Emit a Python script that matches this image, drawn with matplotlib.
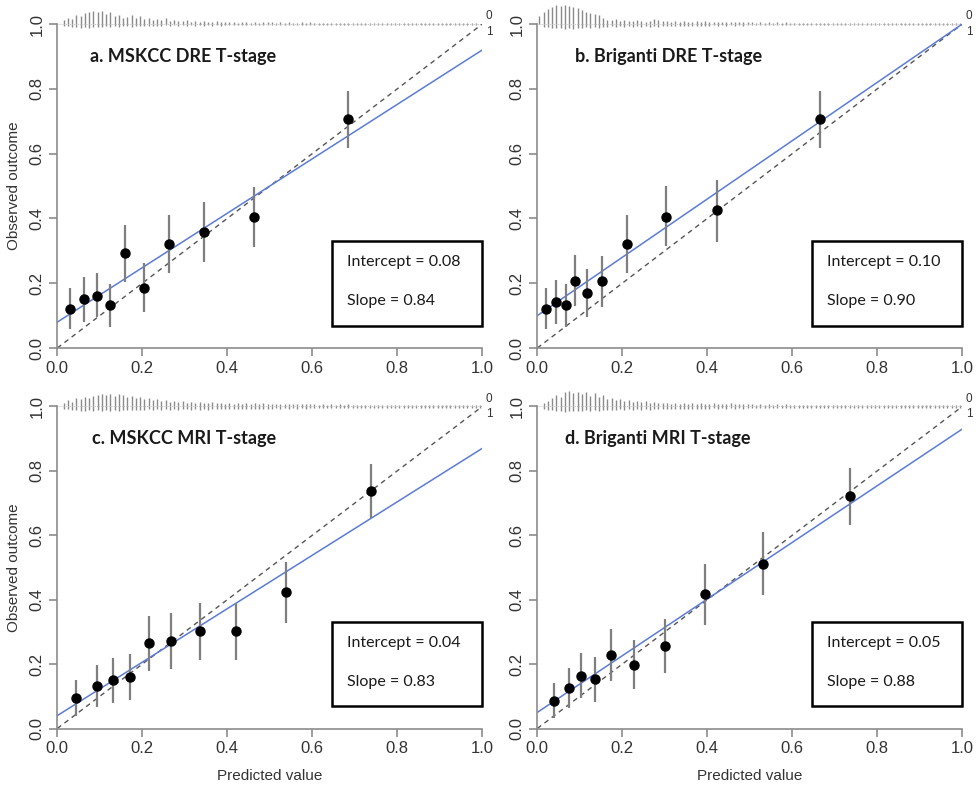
import matplotlib.pyplot as plt
import numpy as np

# panel titles and fitted calibration lines
titles = ['a. MSKCC DRE T-stage', 'b. Briganti DRE T-stage',
          'c. MSKCC MRI T-stage', 'd. Briganti MRI T-stage']
intercepts = [0.08, 0.10, 0.04, 0.05]
slopes = [0.84, 0.90, 0.83, 0.88]

# grouped observations (predicted, observed, CI low, CI high)
a_x = [0.029, 0.064, 0.093, 0.123, 0.160, 0.204, 0.263, 0.346, 0.464, 0.683]
a_y = [0.122, 0.151, 0.160, 0.132, 0.292, 0.186, 0.320, 0.358, 0.405, 0.706]
a_lo = [0.059, 0.081, 0.097, 0.066, 0.205, 0.112, 0.231, 0.266, 0.313, 0.618]
a_hi = [0.184, 0.220, 0.231, 0.197, 0.380, 0.261, 0.410, 0.450, 0.498, 0.793]

b_x = [0.021, 0.044, 0.067, 0.089, 0.116, 0.153, 0.211, 0.304, 0.424, 0.665]
b_y = [0.122, 0.142, 0.132, 0.207, 0.170, 0.206, 0.320, 0.405, 0.425, 0.706]
b_lo = [0.059, 0.074, 0.066, 0.130, 0.097, 0.128, 0.231, 0.315, 0.328, 0.618]
b_hi = [0.184, 0.210, 0.198, 0.287, 0.243, 0.284, 0.410, 0.500, 0.519, 0.793]

c_x = [0.045, 0.093, 0.130, 0.170, 0.217, 0.267, 0.335, 0.420, 0.538, 0.738]
c_y = [0.094, 0.132, 0.151, 0.160, 0.265, 0.271, 0.302, 0.302, 0.424, 0.737]
c_lo = [0.039, 0.066, 0.080, 0.088, 0.179, 0.185, 0.213, 0.213, 0.329, 0.653]
c_hi = [0.151, 0.197, 0.220, 0.230, 0.349, 0.358, 0.391, 0.389, 0.518, 0.821]

d_x = [0.039, 0.074, 0.103, 0.136, 0.173, 0.228, 0.301, 0.395, 0.530, 0.737]
d_y = [0.086, 0.125, 0.163, 0.154, 0.228, 0.198, 0.256, 0.417, 0.512, 0.722]
d_lo = [0.032, 0.063, 0.094, 0.083, 0.147, 0.122, 0.171, 0.321, 0.415, 0.633]
d_hi = [0.140, 0.189, 0.234, 0.223, 0.309, 0.275, 0.340, 0.511, 0.610, 0.810]

# spike histograms along the top, 100 bins, one base-36 digit per bin
a_up = ('046598bcdc' 'dac8967968' '5645463433' '4232322322' '2212212122'
        '2121211212' '1111111111' '1111111111' '1111111111' '1111111110')
a_dn = ('0223343433' '3232322322' '2222212121' '2121212121' '1111111111'
        '1111111111' '1111111111' '1111111111' '1111111111' '1111111110')
b_up = ('8cfhjijihg' 'ecba964453' '4334323543' '3232322323' '2222222222'
        '2121212121' '1111111111' '1111111111' '1111111111' '1111111111')
b_dn = ('0334445454' '4343433232' '3232323232' '2222222222' '2121212121'
        '1111111111' '1111111111' '1111111111' '1111111111' '1111111111')
c_up = ('03648798ab' 'cbcacb9a89' '7867564545' '3434334332' '3232323232'
        '2222222222' '2121212121' '1111111111' '1111111111' '1111111111')
c_dn = ('0223344343' '4343433333' '3232323232' '2323232222' '2222222222'
        '2121212121' '1111111111' '1111111111' '1111111111' '1111111111')
d_up = ('0358b9efde' 'cead9b7867' '5645453433' '3232323232' '2322232222'
        '2121212121' '1111111111' '1111111111' '1111111111' '1111111111')
d_dn = ('0233445444' '4343433332' '3232323222' '2222222222' '2121212121'
        '1111111111' '1111111111' '1111111111' '1111111111' '1111111111')

panels = [(a_x, a_y, a_lo, a_hi, a_up, a_dn),
          (b_x, b_y, b_lo, b_hi, b_up, b_dn),
          (c_x, c_y, c_lo, c_hi, c_up, c_dn),
          (d_x, d_y, d_lo, d_hi, d_up, d_dn)]

fig = plt.figure(figsize=(9.79, 7.91), dpi=100)
rects = [[0.0585, 0.560, 0.4341, 0.4096],
         [0.5488, 0.560, 0.4341, 0.4096],
         [0.0585, 0.079, 0.4341, 0.4071],
         [0.5488, 0.079, 0.4341, 0.4071]]
title_x = [0.077, 0.089, 0.082, 0.065]

tick_font = ['Liberation Sans', 'DejaVu Sans']
axis_grey = '#8c8c8c'
blue = '#5b7bd6'

for i in range(4):
    px, py, lo, hi, up, dn = panels[i]
    ax = fig.add_axes(rects[i])
    ax.set_xlim(0, 1)
    ax.set_ylim(0, 1)

    # spike histogram
    centers = (np.arange(100) + 0.5) / 100
    h_up = np.array([int(ch, 36) for ch in up]) / 320
    h_dn = np.array([int(ch, 36) for ch in dn]) / 320
    ax.vlines(centers, 1, 1 + h_up, color='#8a8a8a', lw=1, clip_on=False)
    ax.vlines(centers, 1 - h_dn, 1, color='#8a8a8a', lw=1, clip_on=False)
    ax.plot([0, 1], [1, 1], color='#b0b0b0', lw=0.6, ls=(0, (1, 1.5)),
            clip_on=False)
    ax.text(1.008, 1.005, '0', fontsize=8.5, ha='left', va='bottom',
            color='#333333', family=tick_font)
    ax.text(1.008, 0.995, '1', fontsize=8.5, ha='left', va='top',
            color='#333333', family=tick_font)

    # reference and calibration lines
    ax.plot([0, 1], [0, 1], color='#555555', lw=1, ls=(0, (3.5, 3)))
    xs = np.array([0, 1])
    ax.plot(xs, intercepts[i] + slopes[i] * xs, color=blue, lw=1.1)

    # grouped observations
    ax.vlines(px, lo, hi, color='#7f7f7f', lw=1.6)
    ax.plot(px, py, 'o', color='black', ms=6.5)

    ax.text(title_x[i], 0.90, titles[i], fontsize=13, fontweight='bold',
            family=['Lato', 'DejaVu Sans'], ha='left', va='center',
            color='#1a1a1a')

    # stats box
    box = plt.Rectangle((0.646, 0.069), 0.353, 0.262, fill=False,
                        ec='black', lw=1.8, clip_on=False)
    ax.add_patch(box)
    ax.text(0.682, 0.265, 'Intercept = %.2f' % intercepts[i], fontsize=11.5,
            family=['Lato', 'DejaVu Sans'], ha='left', va='center',
            color='#1a1a1a')
    ax.text(0.682, 0.145, 'Slope = %.2f' % slopes[i], fontsize=11.5,
            family=['Lato', 'DejaVu Sans'], ha='left', va='center',
            color='#1a1a1a')

    # R-like axes
    for s in ['top', 'right']:
        ax.spines[s].set_visible(False)
    for s in ['left', 'bottom']:
        ax.spines[s].set_color(axis_grey)
        ax.spines[s].set_linewidth(1.2)
    ticks = [0, 0.2, 0.4, 0.6, 0.8, 1.0]
    ax.set_xticks(ticks)
    ax.set_yticks(ticks)
    ax.set_xticklabels(['%.1f' % t for t in ticks], family=tick_font,
                       fontsize=12, color='#333333')
    ax.set_yticklabels(['%.1f' % t for t in ticks], family=tick_font,
                       fontsize=12, color='#333333', rotation=90, va='center')
    ax.tick_params(direction='out', length=6, width=1.2, color=axis_grey,
                   pad=3)

    if i in (0, 2):
        ax.set_ylabel('Observed outcome', family=tick_font, fontsize=11,
                      color='#333333', labelpad=6)
    if i in (2, 3):
        ax.set_xlabel('Predicted value', family=tick_font, fontsize=11,
                      color='#333333', labelpad=9)

fig.savefig('out.png', dpi=100)
